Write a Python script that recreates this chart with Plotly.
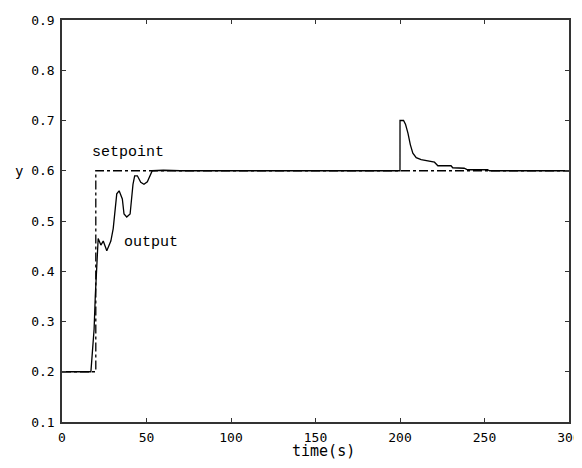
import plotly.graph_objects as go

# Setpoint (dash-dot)
setpoint_t = [0, 20, 20, 300]
setpoint_v = [0.2, 0.2, 0.6, 0.6]

# Process output (solid)
output_t = [0, 17.1, 18.0, 18.3, 19.0, 19.7, 20.4, 21.0, 21.4, 23.0, 24.4, 26.5, 28.9,
            30.3, 31.4, 32.4, 33.8, 35.7, 36.7, 38.3, 40.3, 41.1, 42.0, 43.0, 44.6,
            46.6, 48.5, 50.5, 51.9, 53.4, 60, 70, 200,
            200.01, 202.1, 203.3, 204.7, 206.1, 207.6, 209.6, 212.5, 217.4, 220.4,
            222.4, 230.2, 231.2, 238.0, 240.0, 251.8, 253.0, 300]
output_v = [0.2, 0.2, 0.24, 0.255, 0.285, 0.35, 0.396, 0.442, 0.465, 0.452, 0.46, 0.441, 0.46,
            0.485, 0.518, 0.554, 0.56, 0.544, 0.514, 0.508, 0.514, 0.541, 0.573, 0.59, 0.59,
            0.577, 0.573, 0.578, 0.59, 0.6, 0.601, 0.6, 0.6,
            0.70, 0.70, 0.692, 0.675, 0.652, 0.635, 0.626, 0.622, 0.618, 0.617,
            0.61, 0.61, 0.606, 0.605, 0.602, 0.602, 0.6, 0.6]

x_ticks = [0, 50, 100, 150, 200, 250, 300]
y_ticks = [0.1, 0.2, 0.3, 0.4, 0.5, 0.6, 0.7, 0.8, 0.9]

fig = go.Figure()
fig.add_trace(go.Scatter(x=setpoint_t, y=setpoint_v, mode="lines",
                         line=dict(color="black", width=1.3, dash="dashdot"),
                         showlegend=False, hoverinfo="skip"))
fig.add_trace(go.Scatter(x=output_t, y=output_v, mode="lines",
                         line=dict(color="black", width=1.3),
                         showlegend=False, hoverinfo="skip"))

axis_common = dict(showline=True, linecolor="#333", linewidth=1.5, mirror="ticks",
                   ticks="inside", ticklen=4, tickcolor="#333", showgrid=False,
                   zeroline=False, ticklabeloverflow="allow", ticklabelstandoff=3,
                   tickfont=dict(family="DejaVu Sans Mono", size=13, color="black"))

fig.update_xaxes(range=[0, 300], tickvals=x_ticks,
                 ticktext=[str(v) for v in x_ticks], **axis_common)
fig.update_yaxes(range=[0.1, 0.9], tickvals=y_ticks,
                 ticktext=[f"{v:.1f}" for v in y_ticks], **axis_common)

W, H, L, R, T, B = 578, 452, 54, 5, 8, 38
plot_w = W - L - R

fig.add_annotation(x=39, y=0.636, xref="x", yref="y", text="setpoint", showarrow=False,
                   font=dict(family="Liberation Mono", size=15, color="black"))
fig.add_annotation(x=52.7, y=0.457, xref="x", yref="y", text="output", showarrow=False,
                   font=dict(family="Liberation Mono", size=15, color="black"))
fig.add_annotation(x=-44 / plot_w, y=0.6, xref="paper", yref="y", text="y", showarrow=False,
                   xanchor="center", yanchor="middle",
                   font=dict(family="DejaVu Sans Mono", size=14, color="black"))
fig.add_annotation(x=155, y=-(451 - 422) / 406, xref="x", yref="paper", text="time(s)",
                   showarrow=False, xanchor="center", yanchor="middle",
                   font=dict(family="DejaVu Sans Mono", size=15, color="black"))

fig.update_layout(width=W, height=H, plot_bgcolor="white", paper_bgcolor="white",
                  margin=dict(l=L, r=R, t=T, b=B))

fig.write_html("out.html")
